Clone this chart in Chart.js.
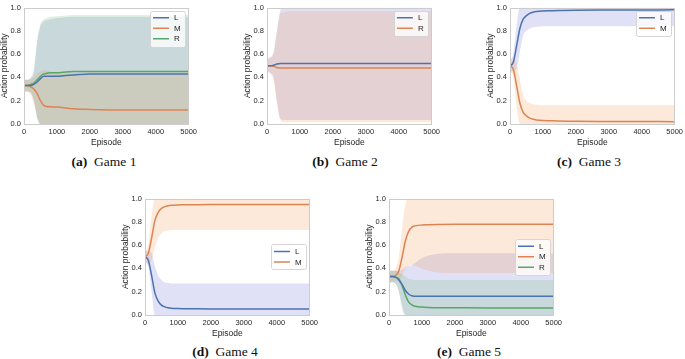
<!DOCTYPE html>
<html>
<head>
<meta charset="utf-8">
<script src="https://cdn.jsdelivr.net/npm/chart.js@4.4.1/dist/chart.umd.min.js"></script>
<style>
  html, body { margin: 0; padding: 0; background: #fff; width: 685px; height: 359px; overflow: hidden; }
  .panel { position: absolute; }
  .cap { position: absolute; font-family: "Liberation Serif", "DejaVu Serif", serif; font-size: 13.5px; color: #111; white-space: nowrap; transform: translate(-50%, -50%); }
  .cap b { font-weight: bold; }
</style>
</head>
<body>
<canvas id="c1" class="panel"></canvas>
<canvas id="c2" class="panel"></canvas>
<canvas id="c3" class="panel"></canvas>
<canvas id="c4" class="panel"></canvas>
<canvas id="c5" class="panel"></canvas>
<div class="cap" style="left:104px; top:162px;"><b>(a)</b>&nbsp; Game 1</div>
<div class="cap" style="left:345px; top:162px;"><b>(b)</b>&nbsp; Game 2</div>
<div class="cap" style="left:589px; top:162px;"><b>(c)</b>&nbsp; Game 3</div>
<div class="cap" style="left:225px; top:352px;"><b>(d)</b>&nbsp; Game 4</div>
<div class="cap" style="left:469px; top:352px;"><b>(e)</b>&nbsp; Game 5</div>
<script>
// ---------------- DATA ----------------
const EPISODES = [0, 100, 200, 300, 400, 500, 600, 700, 800, 1000, 1200, 1500, 2000, 3000, 4000, 5000];
const X_TICKS = [0, 1000, 2000, 3000, 4000, 5000];
const Y_TICKS = [0.0, 0.2, 0.4, 0.6, 0.8, 1.0];

// Game 1 (L, M, R)
const G1_L    = [0.33,0.33,0.33,0.34,0.36,0.39,0.41,0.41,0.41,0.41,0.415,0.42,0.43,0.43,0.43,0.43];
const G1_L_HI = [0.38,0.38,0.39,0.45,0.70,0.84,0.88,0.89,0.90,0.91,0.915,0.92,0.92,0.92,0.92,0.92];
const G1_L_LO = [0.28,0.28,0.27,0.20,0.05,0,0,0,0,0,0,0,0,0,0,0];
const G1_M    = [0.33,0.33,0.32,0.30,0.26,0.20,0.16,0.15,0.148,0.145,0.14,0.13,0.125,0.12,0.12,0.12];
const G1_M_HI = [0.38,0.38,0.38,0.40,0.43,0.45,0.46,0.46,0.45,0.44,0.44,0.44,0.44,0.44,0.44,0.44];
const G1_M_LO = [0.28,0.28,0.25,0.18,0.08,0,0,0,0,0,0,0,0,0,0,0];
const G1_R    = [0.33,0.33,0.34,0.35,0.38,0.41,0.43,0.435,0.44,0.44,0.445,0.45,0.45,0.45,0.45,0.45];
const G1_R_HI = [0.38,0.38,0.40,0.47,0.72,0.86,0.90,0.91,0.92,0.925,0.93,0.935,0.935,0.935,0.935,0.935];
const G1_R_LO = [0.28,0.28,0.27,0.20,0.05,0,0,0,0,0,0,0,0,0,0,0];

// Game 2 (L, R)
const G2_L    = [0.50,0.50,0.505,0.515,0.52,0.52,0.52,0.52,0.52,0.52,0.52,0.52,0.52,0.52,0.52,0.52];
const G2_L_HI = [0.56,0.57,0.62,0.80,0.97,1,1,1,1,1,1,1,1,1,1,1];
const G2_L_LO = [0.45,0.44,0.40,0.20,0.05,0.035,0.035,0.035,0.035,0.035,0.035,0.035,0.035,0.035,0.035,0.035];
const G2_R    = [0.50,0.50,0.495,0.485,0.48,0.48,0.48,0.48,0.48,0.48,0.48,0.48,0.48,0.48,0.48,0.48];
const G2_R_HI = [0.56,0.57,0.60,0.78,0.94,0.96,0.965,0.97,0.97,0.97,0.97,0.97,0.97,0.97,0.97,0.97];
const G2_R_LO = [0.45,0.43,0.38,0.18,0.04,0.015,0.015,0.015,0.015,0.015,0.015,0.015,0.015,0.015,0.015,0.015];

// Game 3 (L, M)
const G3_L    = [0.50,0.53,0.67,0.82,0.90,0.93,0.95,0.96,0.965,0.97,0.972,0.975,0.977,0.978,0.979,0.98];
const G3_L_HI = [0.55,0.60,0.85,1,1,1,1,1,1,1,1,1,1,1,1,1];
const G3_L_LO = [0.45,0.45,0.48,0.62,0.76,0.80,0.82,0.83,0.835,0.84,0.84,0.84,0.84,0.84,0.84,0.84];
const G3_M    = [0.50,0.47,0.33,0.18,0.10,0.07,0.05,0.04,0.035,0.03,0.028,0.025,0.023,0.022,0.021,0.02];
const G3_M_HI = [0.55,0.55,0.52,0.38,0.24,0.20,0.18,0.17,0.165,0.16,0.16,0.16,0.16,0.16,0.16,0.16];
const G3_M_LO = [0.45,0.40,0.15,0,0,0,0,0,0,0,0,0,0,0,0,0];

// Game 4 (L, M)
const G4_L    = [0.50,0.47,0.34,0.19,0.12,0.085,0.07,0.062,0.058,0.055,0.054,0.053,0.052,0.052,0.052,0.052];
const G4_L_HI = [0.55,0.55,0.53,0.42,0.34,0.30,0.28,0.275,0.27,0.27,0.27,0.27,0.27,0.27,0.27,0.27];
const G4_L_LO = [0.45,0.42,0.20,0,0,0,0,0,0,0,0,0,0,0,0,0];
const G4_M    = [0.50,0.53,0.66,0.81,0.88,0.915,0.93,0.938,0.942,0.945,0.946,0.947,0.948,0.948,0.948,0.948];
const G4_M_HI = [0.55,0.60,0.85,1,1,1,1,1,1,1,1,1,1,1,1,1];
const G4_M_LO = [0.45,0.45,0.47,0.58,0.66,0.70,0.72,0.725,0.73,0.73,0.73,0.73,0.73,0.73,0.73,0.73];

// Game 5 (L, M, R)
const G5_L    = [0.33,0.33,0.325,0.30,0.26,0.21,0.178,0.165,0.16,0.16,0.16,0.16,0.16,0.16,0.16,0.16];
const G5_L_HI = [0.38,0.38,0.38,0.38,0.39,0.41,0.42,0.43,0.45,0.49,0.51,0.525,0.53,0.53,0.53,0.53];
const G5_L_LO = [0.28,0.28,0.27,0.20,0.08,0,0,0,0,0,0,0,0,0,0,0];
const G5_M    = [0.33,0.33,0.34,0.38,0.50,0.64,0.72,0.755,0.765,0.772,0.774,0.776,0.778,0.78,0.78,0.78];
const G5_M_HI = [0.38,0.38,0.40,0.50,0.75,0.95,1,1,1,1,1,1,1,1,1,1];
const G5_M_LO = [0.29,0.29,0.29,0.30,0.34,0.40,0.42,0.43,0.42,0.40,0.38,0.365,0.36,0.36,0.36,0.36];
const G5_R    = [0.33,0.33,0.325,0.31,0.25,0.17,0.11,0.085,0.075,0.068,0.065,0.063,0.062,0.06,0.06,0.06];
const G5_R_HI = [0.38,0.38,0.38,0.37,0.35,0.33,0.31,0.305,0.30,0.30,0.30,0.30,0.30,0.30,0.30,0.30];
const G5_R_LO = [0.28,0.28,0.27,0.20,0.05,0,0,0,0,0,0,0,0,0,0,0];

// ---------------- STYLE ----------------
// colours follow series order (1st blue, 2nd orange, 3rd green)
const LINE_COLORS = ['#4c72b0', '#dd8452', '#55a868'];
const BAND_COLORS = ['rgba(100,100,210,0.2)', 'rgba(240,145,70,0.2)', 'rgba(105,180,105,0.2)'];
const SANS = '"Liberation Sans", Arial, sans-serif';
const TXT = '#262626';

const PLOT_W = 166, PLOT_H = 121, Y_AXIS_W = 24, X_AXIS_H = 24, PAD_T = 3, PAD_R = 10;

const framePlugin = {
  id: 'frame',
  afterDatasetsDraw(chart) {
    const { ctx, chartArea: a } = chart;
    ctx.save();
    ctx.strokeStyle = '#cccccc';
    ctx.lineWidth = 1;
    ctx.strokeRect(Math.round(a.left) + 0.5, Math.round(a.top) + 0.5, Math.round(a.right - a.left) - 1, Math.round(a.bottom - a.top) - 1);
    ctx.restore();
  }
};

const insideLegend = {
  id: 'insideLegend',
  afterDraw(chart, args, opts) {
    const { ctx, chartArea: a } = chart;
    const items = chart.data.datasets.filter(d => d.isMean);
    ctx.save();
    ctx.font = '8px ' + SANS;
    const rowH = 10.5, padV = 2, lineX0 = 3, lineLen = 16, textX = 24;
    const textW = Math.max(...items.map(d => ctx.measureText(d.label).width));
    const w = textX + textW + 4;
    const h = padV * 2 + rowH * items.length;
    const x = a.right - 4 - w;
    const y = opts.loc === 'center' ? (a.top + a.bottom) / 2 - h / 2 : a.top + 3;
    ctx.fillStyle = 'rgba(255,255,255,0.8)';
    ctx.strokeStyle = '#d5d5d5';
    ctx.lineWidth = 1;
    ctx.beginPath();
    if (ctx.roundRect) ctx.roundRect(Math.round(x) + 0.5, Math.round(y) + 0.5, Math.round(w), Math.round(h), 2);
    else ctx.rect(Math.round(x) + 0.5, Math.round(y) + 0.5, Math.round(w), Math.round(h));
    ctx.fill();
    ctx.stroke();
    items.forEach((d, i) => {
      const cy = y + padV + rowH * (i + 0.5);
      ctx.strokeStyle = d.borderColor;
      ctx.lineWidth = 1.5;
      ctx.beginPath();
      ctx.moveTo(x + lineX0, cy);
      ctx.lineTo(x + lineX0 + lineLen, cy);
      ctx.stroke();
      ctx.fillStyle = TXT;
      ctx.textBaseline = 'middle';
      ctx.textAlign = 'left';
      ctx.fillText(d.label, x + textX, cy + 0.5);
    });
    ctx.restore();
  }
};

function meanDs(label, data, idx) {
  return { label, isMean: true, data, borderColor: LINE_COLORS[idx], backgroundColor: LINE_COLORS[idx],
           borderWidth: 1.5, pointRadius: 0, fill: false, cubicInterpolationMode: 'monotone' };
}
function bandDs(label, hi, lo, idx) {
  return [
    { label: label + ' hi', data: hi, borderWidth: 0, borderColor: 'rgba(0,0,0,0)', pointRadius: 0,
      fill: '+1', backgroundColor: BAND_COLORS[idx], cubicInterpolationMode: 'monotone' },
    { label: label + ' lo', data: lo, borderWidth: 0, borderColor: 'rgba(0,0,0,0)', pointRadius: 0,
      fill: false, backgroundColor: BAND_COLORS[idx], cubicInterpolationMode: 'monotone' }
  ];
}

function makePanel(id, plotLeft, plotTop, series, loc) {
  const cv = document.getElementById(id);
  const W = PLOT_W + Y_AXIS_W + PAD_R, H = PLOT_H + PAD_T + X_AXIS_H;
  cv.width = W; cv.height = H;
  cv.style.width = W + 'px'; cv.style.height = H + 'px';
  cv.style.left = (plotLeft - Y_AXIS_W) + 'px';
  cv.style.top = (plotTop - PAD_T) + 'px';
  // means first (drawn on top), then bands in reverse so first series' band is drawn first
  const datasets = series.map((s, i) => meanDs(s[0], s[1], i));
  for (let i = series.length - 1; i >= 0; i--) datasets.push(...bandDs(series[i][0], series[i][2], series[i][3], i));
  new Chart(cv, {
    type: 'line',
    data: { labels: EPISODES, datasets: datasets.map(d => ({ ...d, data: d.data.map((v, k) => ({ x: EPISODES[k], y: v })) })) },
    options: {
      responsive: false, animation: false, devicePixelRatio: 1,
      layout: { padding: { top: PAD_T, right: PAD_R, left: 0, bottom: 0 } },
      plugins: { legend: { display: false }, tooltip: { enabled: false }, insideLegend: { loc }, filler: { propagate: false } },
      scales: {
        x: {
          type: 'linear', min: 0, max: 5000,
          afterBuildTicks: s => { s.ticks = X_TICKS.map(v => ({ value: v })); },
          ticks: { font: { family: SANS, size: 7.5 }, color: TXT, padding: 3, maxRotation: 0, autoSkip: false,
                   callback: v => String(v) },
          grid: { display: false, drawTicks: false },
          border: { display: false },
          title: { display: true, text: 'Episode', font: { family: SANS, size: 8.5 }, color: TXT, padding: { top: 0, bottom: 0 } },
          afterFit: s => { s.height = X_AXIS_H; }
        },
        y: {
          min: 0, max: 1,
          afterBuildTicks: s => { s.ticks = Y_TICKS.map(v => ({ value: v })); },
          ticks: { font: { family: SANS, size: 7.5 }, color: TXT, padding: 3, autoSkip: false,
                   callback: v => Number(v).toFixed(1) },
          grid: { display: false, drawTicks: false },
          border: { display: false },
          title: { display: true, text: 'Action probability', font: { family: SANS, size: 8.5 }, color: TXT, padding: { top: 0, bottom: 0 } },
          afterFit: s => { s.width = Y_AXIS_W; }
        }
      }
    },
    plugins: [framePlugin, insideLegend]
  });
}

makePanel('c1', 24, 3,  [['L', G1_L, G1_L_HI, G1_L_LO], ['M', G1_M, G1_M_HI, G1_M_LO], ['R', G1_R, G1_R_HI, G1_R_LO]], 'upper');
makePanel('c2', 267, 3, [['L', G2_L, G2_L_HI, G2_L_LO], ['R', G2_R, G2_R_HI, G2_R_LO]], 'upper');
makePanel('c3', 510, 3, [['L', G3_L, G3_L_HI, G3_L_LO], ['M', G3_M, G3_M_HI, G3_M_LO]], 'upper');
makePanel('c4', 145, 194, [['L', G4_L, G4_L_HI, G4_L_LO], ['M', G4_M, G4_M_HI, G4_M_LO]], 'center');
makePanel('c5', 389, 194, [['L', G5_L, G5_L_HI, G5_L_LO], ['M', G5_M, G5_M_HI, G5_M_LO], ['R', G5_R, G5_R_HI, G5_R_LO]], 'center');
</script>
</body>
</html>
